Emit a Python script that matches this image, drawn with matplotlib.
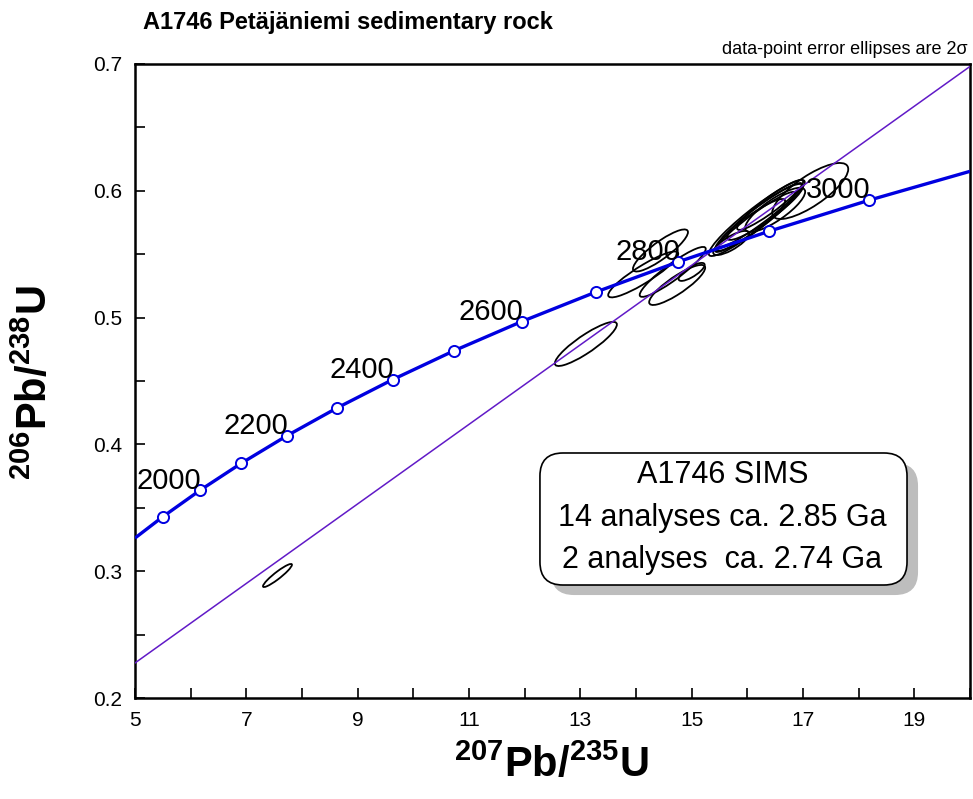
import matplotlib
matplotlib.use("Agg")
import matplotlib.pyplot as plt
from matplotlib.patches import Ellipse, FancyBboxPatch
from matplotlib.ticker import MultipleLocator
from matplotlib import font_manager
import numpy as np

# colours
BLUE = (0.0, 0.0, 0.88)
PURPLE = (0.38, 0.1, 0.78)
SHADOW = (0.74, 0.74, 0.74)

# concordia: marker ages (Ma) and their ratios
conc_ages = [1900, 2000, 2100, 2200, 2300, 2400, 2500, 2600, 2700, 2800, 2900, 3000]
conc_x = [5.496, 6.169, 6.910, 7.729, 8.633, 9.630, 10.730, 11.944, 13.284, 14.762, 16.393, 18.193]
conc_y = [0.3428, 0.3638, 0.3851, 0.4068, 0.4288, 0.4511, 0.4738, 0.4968, 0.5202, 0.5440, 0.5681, 0.5926]
curve_start = (5.0, 0.3261)
curve_end = (20.0, 0.6153)
labelled_ages = [2000, 2200, 2400, 2600, 2800, 3000]

# discordia line end points
disc_x = [5.0, 20.0]
disc_y = [0.2276, 0.698]

# analyses: centre, 2-sigma errors and error correlation
ell_x = [7.56, 13.10, 14.44, 14.13, 14.66, 14.74, 15.00,
         16.17, 16.23, 16.32, 16.14, 16.41, 16.05, 16.50, 17.13, 15.71]
ell_y = [0.2966, 0.4792, 0.5529, 0.5340, 0.5360, 0.5257, 0.5360,
         0.5785, 0.5809, 0.5833, 0.5754, 0.5888, 0.5730, 0.5849, 0.5998, 0.5588]
ell_sx = [0.26, 0.557, 0.494, 0.629, 0.593, 0.503, 0.234,
          0.862, 0.754, 0.683, 0.719, 0.593, 0.629, 0.539, 0.683, 0.323]
ell_sy = [0.0091, 0.0174, 0.0166, 0.0181, 0.0197, 0.0158, 0.0071,
          0.0300, 0.0252, 0.0221, 0.0237, 0.0197, 0.0205, 0.0174, 0.0221, 0.0095]
ell_rho = [0.93, 0.88, 0.87, 0.90, 0.92, 0.86, 0.78,
           0.94, 0.95, 0.92, 0.95, 0.93, 0.92, 0.82, 0.78, 0.78]

box_lines = ["A1746 SIMS", "14 analyses ca. 2.85 Ga", "2 analyses  ca. 2.74 Ga"]

names = {f.name for f in font_manager.fontManager.ttflist}
NARROW = "Liberation Sans Narrow" if "Liberation Sans Narrow" in names else "Liberation Sans"
REGULAR = "Liberation Sans"

plt.rcParams["font.family"] = [NARROW, "DejaVu Sans"]
plt.rcParams["mathtext.fontset"] = "custom"
plt.rcParams["mathtext.bf"] = NARROW + ":bold"
plt.rcParams["mathtext.rm"] = NARROW

fig = plt.figure(figsize=(9.73, 7.99), dpi=100)
ax = fig.add_axes([0.1387, 0.1264, 0.8582, 0.7936])
ax.set_xlim(5, 20)
ax.set_ylim(0.2, 0.7)

# concordia curve + age markers
cx = [curve_start[0]] + conc_x + [curve_end[0]]
cy = [curve_start[1]] + conc_y + [curve_end[1]]
ax.plot(cx, cy, color=BLUE, lw=2.4, zorder=4, solid_capstyle="butt")
ax.plot(conc_x, conc_y, "o", mfc="white", mec=BLUE, mew=1.4, ms=8, zorder=5)
for age, x, y in zip(conc_ages, conc_x, conc_y):
    if age in labelled_ages:
        ax.annotate(str(age), xy=(x, y), xytext=(1, 7), textcoords="offset points",
                    ha="right", va="center", fontsize=21, family=REGULAR, zorder=6)

# error ellipses (covariance -> patch in data space)
for x, y, sx, sy, r in zip(ell_x, ell_y, ell_sx, ell_sy, ell_rho):
    cov = np.array([[sx * sx, r * sx * sy], [r * sx * sy, sy * sy]])
    vals, vecs = np.linalg.eigh(cov)
    ang = np.degrees(np.arctan2(vecs[1, 1], vecs[0, 1]))
    e = Ellipse((x, y), 2 * np.sqrt(vals[1]), 2 * np.sqrt(vals[0]), angle=ang,
                fill=False, ec="black", lw=1.3, zorder=2)
    ax.add_patch(e)

# discordia
ax.plot(disc_x, disc_y, color=PURPLE, lw=1.1, zorder=3)

# text box with shadow
bx, by, bw, bh = 0.4850, 0.1782, 0.4396, 0.2082
style = "round,pad=0,rounding_size=0.0275"
ax.add_patch(FancyBboxPatch((bx + 0.0132, by - 0.0158), bw, bh, boxstyle=style,
                            mutation_aspect=835 / 634, transform=ax.transAxes,
                            fc=SHADOW, ec="none", zorder=7))
ax.add_patch(FancyBboxPatch((bx, by), bw, bh, boxstyle=style,
                            mutation_aspect=835 / 634, transform=ax.transAxes,
                            fc="white", ec="black", lw=1.2, zorder=8))
for txt, ty in zip(box_lines, [0.3517, 0.2839, 0.2177]):
    ax.text(0.7036, ty, txt, transform=ax.transAxes, ha="center", va="center",
            fontsize=22, family=REGULAR, zorder=9)

# axes styling
ax.xaxis.set_minor_locator(MultipleLocator(1))
ax.yaxis.set_minor_locator(MultipleLocator(0.05))
ax.set_xticks([5, 7, 9, 11, 13, 15, 17, 19])
ax.set_xticklabels(["5", "7", "9", "11", "13", "15", "17", "19"])
ax.set_yticks([0.2, 0.3, 0.4, 0.5, 0.6, 0.7])
ax.set_yticklabels(["0.2", "0.3", "0.4", "0.5", "0.6", "0.7"])
ax.tick_params(which="both", direction="in", width=1.2, labelsize=15, pad=9, length=7)
ax.tick_params(top=False, right=False)
for s in ax.spines.values():
    s.set_linewidth(1.8)

fig.text(551 / 973, 1 - 765 / 799, r"$\mathbf{^{207}Pb/^{235}U}$", fontsize=30,
         ha="center", va="center")
fig.text(35 / 973, 1 - 383 / 799, r"$\mathbf{^{206}Pb/^{238}U}$", fontsize=30,
         ha="center", va="center", rotation=90)

fig.text(143 / 973, 1 - 23 / 799, "A1746 Petäjäniemi sedimentary rock",
         fontsize=17, weight="bold", ha="left", va="center")
fig.text(968 / 973, 1 - 49 / 799, "data-point error ellipses are 2σ",
         fontsize=13, ha="right", va="center")

fig.savefig("out.png", dpi=100)
